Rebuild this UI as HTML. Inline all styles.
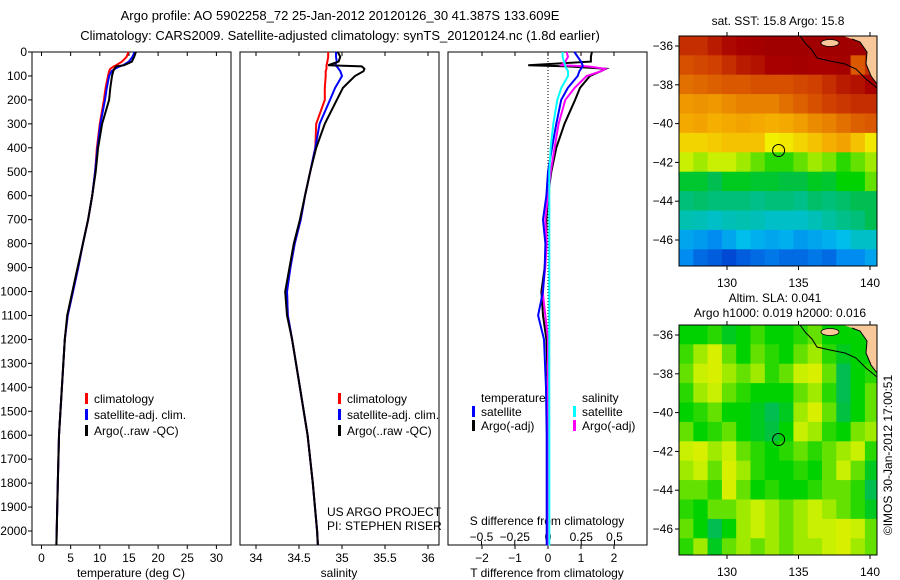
<!DOCTYPE html>
<html><head><meta charset="utf-8"><style>
body{margin:0;background:#fff;}
svg{display:block;font-family:"Liberation Sans",sans-serif;font-size:12px;}
</style></head><body>
<svg id="c" width="900" height="580" xmlns="http://www.w3.org/2000/svg">
<rect width="900" height="580" fill="#fff"/>
<text x="340" y="20" text-anchor="middle" font-size="13">Argo profile: AO 5902258_72 25-Jan-2012 20120126_30 41.387S 133.609E</text>
<text x="340" y="40" text-anchor="middle" font-size="13">Climatology: CARS2009. Satellite-adjusted climatology: synTS_20120124.nc (1.8d earlier)</text>
<g id="g"></g>
</svg>
<script>
// ---- data ----
const depths=[0,20,40,55,60,70,80,100,150,200,300,400,500,600,700,800,900,1000,1100,1200,1400,1600,1800,2000,2060];
const tempClim=[14.9,14.6,13.8,12.8,12.4,11.8,11.6,11.4,11.0,10.7,10.0,9.5,9.2,8.7,8.0,7.1,6.3,5.4,4.5,4.0,3.5,3.0,2.8,2.6,2.55];
const tempSat=[16.0,15.6,15.0,14.0,13.4,12.6,12.0,11.6,11.2,10.9,10.1,9.6,9.2,8.7,8.0,7.1,6.3,5.4,4.5,4.0,3.5,3.0,2.8,2.6,2.55];
const tempArgo=[16.2,15.9,15.5,14.2,12.8,12.5,12.3,12.1,11.8,11.6,10.4,9.7,9.3,8.7,8.0,7.1,6.2,5.3,4.4,4.0,3.5,3.0,2.8,2.6,2.55];
const salClim=[34.84,34.84,34.83,34.82,34.82,34.82,34.81,34.81,34.8,34.8,34.7,34.69,34.63,34.57,34.52,34.45,34.4,34.36,34.37,34.42,34.51,34.6,34.66,34.71,34.72];
const salSat=[34.93,34.93,34.94,34.92,34.94,34.96,34.98,35.0,34.92,34.86,34.74,34.69,34.63,34.57,34.52,34.45,34.4,34.36,34.37,34.42,34.51,34.6,34.66,34.71,34.72];
const salArgo=[34.95,34.98,34.96,34.84,35.23,35.26,35.25,35.15,35.01,34.94,34.8,34.7,34.63,34.57,34.51,34.44,34.39,34.34,34.36,34.42,34.51,34.6,34.66,34.71,34.72];
const tDiffSat=[0.8,0.9,1.0,1.05,1.05,1.0,0.95,0.9,0.6,0.4,0.25,0.12,0.0,-0.05,-0.15,-0.08,-0.1,-0.15,-0.3,-0.12,-0.06,-0.04,-0.04,-0.04,-0.04];
const tDiffArgo=[1.33,1.3,1.3,-0.6,0.6,1.75,1.6,1.27,0.97,0.82,0.5,0.25,0.1,0.0,-0.05,-0.05,-0.1,-0.2,-0.15,-0.05,0,0,0,0,0];
const sDiffSat=[0.11,0.11,0.12,0.13,0.13,0.14,0.15,0.15,0.1,0.07,0.04,0.02,0.01,0.01,0.01,0.01,0.01,0.01,0.01,0.01,0.01,0.01,0.01,0.01,0.01];
const sDiffArgo=[0.14,0.15,0.13,0.1,0.3,0.43,0.4,0.29,0.2,0.13,0.08,0.05,0.02,0.0,-0.02,-0.01,-0.02,-0.04,-0.02,0,0,0,0,0,0];
const depthTicks=[0,100,200,300,400,500,600,700,800,900,1000,1100,1200,1300,1400,1500,1600,1700,1800,1900,2000];
const tempTicks=[0,5,10,15,20,25,30];
const salTicks=[34,34.5,35,35.5,36];
const tdTicks=[-2,-1,0,1,2];
const sdTicks=[-0.5,-0.25,0,0.25,0.5];
const sdLabels=["\u22120.5","\u22120.25","0","0.25","0.5"];
const lonTicks=[130,135,140];
const latTicks=[-36,-38,-40,-42,-44,-46];
const sstGrid=[
[.9,.9,.92,.94,.95,.96,.97,.97,.97,.97,.97,.97,.97,.97],
[.86,.87,.88,.9,.92,.93,.95,.95,.96,.95,.95,.96,.85,.9],
[.82,.83,.84,.85,.85,.86,.86,.86,.87,.88,.9,.92,.93,.95],
[.76,.77,.76,.78,.8,.8,.8,.82,.84,.86,.88,.89,.9,.9],
[.73,.74,.72,.73,.74,.73,.72,.73,.75,.78,.8,.82,.84,.85],
[.68,.68,.69,.7,.7,.7,.65,.66,.68,.7,.72,.74,.7,.66],
[.6,.58,.6,.6,.58,.55,.52,.52,.55,.58,.56,.52,.55,.58],
[.47,.47,.45,.48,.48,.47,.47,.46,.46,.48,.47,.5,.5,.55],
[.4,.42,.4,.4,.4,.38,.4,.4,.38,.42,.4,.42,.45,.45],
[.33,.32,.3,.32,.33,.32,.3,.3,.3,.32,.35,.38,.4,.45],
[.2,.18,.15,.2,.25,.22,.2,.22,.18,.2,.22,.25,.3,.3],
[.15,.1,.08,.05,.08,.1,.12,.1,.1,.12,.1,.15,.15,.2]];
const slaGrid=[
[.5,.5,.52,.48,.5,.53,.5,.5,.52,.55,.5,.5,.5,.5],
[.53,.58,.62,.55,.5,.55,.52,.5,.55,.58,.52,.48,.5,.5],
[.55,.6,.62,.58,.55,.58,.52,.55,.6,.62,.55,.45,.5,.52],
[.52,.58,.6,.55,.52,.5,.5,.5,.55,.58,.52,.45,.5,.55],
[.5,.52,.55,.5,.5,.48,.45,.48,.58,.62,.55,.46,.5,.55],
[.55,.5,.52,.55,.5,.48,.46,.5,.6,.58,.52,.5,.56,.58],
[.6,.62,.58,.6,.55,.52,.5,.52,.55,.52,.55,.58,.6,.52],
[.58,.6,.55,.62,.58,.52,.5,.5,.52,.5,.55,.6,.55,.48],
[.55,.55,.52,.62,.55,.5,.52,.5,.5,.52,.55,.55,.52,.45],
[.52,.5,.55,.55,.58,.6,.58,.55,.58,.6,.58,.55,.52,.48],
[.55,.5,.45,.5,.58,.6,.58,.55,.58,.6,.6,.62,.6,.55],
[.52,.58,.48,.55,.58,.55,.58,.55,.58,.58,.6,.62,.58,.55]];
// ---- helpers ----
const NS="http://www.w3.org/2000/svg";
const G=document.getElementById('g');
function el(tag,attrs,parent){const e=document.createElementNS(NS,tag);for(const k in attrs)e.setAttribute(k,attrs[k]);(parent||G).appendChild(e);return e;}
const yD=d=>52+d*0.2395;
const xT=t=>41.5+t*5.83;
const xS=s=>256+(s-34)*86;
const xTD=t=>548+t*33;
const xSD=s=>548+s*133;
function line(xs,fn,color,name){
  const pts=depths.map((d,i)=>fn(xs[i]).toFixed(1)+","+yD(d).toFixed(1)).join(" ");
  const p=el('polyline',{points:pts,fill:'none',stroke:color,'stroke-width':2});
  
  
}
function panel(x0,name){
  const r=el('rect',{x:x0,y:52,width:199,height:493,fill:'none',stroke:'#000'});
  
  
}
function txt(x,y,s,anchor,size,name){
  const t=el('text',{x:x,y:y,'text-anchor':anchor||'start','font-size':size||12});
  t.textContent=s;
  
  
  return t;
}
panel(32,'temperature-panel');panel(240,'salinity-panel');panel(448,'difference-panel');
depthTicks.forEach(d=>{
  el('line',{x1:28,x2:32,y1:yD(d),y2:yD(d),stroke:'#000'});
  txt(27,yD(d)+4,String(d),'end',12,'depth-tick-label');
});
tempTicks.forEach(t=>{
  el('line',{x1:xT(t),x2:xT(t),y1:52,y2:56,stroke:'#000'});
  el('line',{x1:xT(t),x2:xT(t),y1:545,y2:549,stroke:'#000'});
  txt(xT(t),562,String(t),'middle',12,'temperature-tick-label');
});
salTicks.forEach(s=>{
  el('line',{x1:xS(s),x2:xS(s),y1:52,y2:56,stroke:'#000'});
  el('line',{x1:xS(s),x2:xS(s),y1:545,y2:549,stroke:'#000'});
  txt(xS(s),562,String(s),'middle',12,'salinity-tick-label');
});
tdTicks.forEach(t=>{
  el('line',{x1:xTD(t),x2:xTD(t),y1:52,y2:56,stroke:'#000'});
  el('line',{x1:xTD(t),x2:xTD(t),y1:545,y2:549,stroke:'#000'});
  txt(xTD(t),562,t<0?"\u2212"+(-t):String(t),'middle',12,'t-diff-tick-label');
});
sdTicks.forEach((s,i)=>{
  el('line',{x1:xSD(s),x2:xSD(s),y1:541,y2:545,stroke:'#000'});
  txt(xSD(s),541,sdLabels[i],'middle',12,'s-diff-tick-label');
});
txt(131,577,'temperature (deg C)','middle',12,'temperature-axis-title');
txt(339,577,'salinity','middle',12,'salinity-axis-title');
txt(547,577,'T difference from climatology','middle',12,'t-diff-axis-title');
txt(547,525,'S difference from climatology','middle',12,'s-diff-axis-title');
el('line',{x1:548,x2:548,y1:52,y2:545,stroke:'#000','stroke-dasharray':'1,2'});
line(tempClim,xT,'#f00','temp-climatology-line');
line(tempSat,xT,'#00f','temp-satellite-line');
line(tempArgo,xT,'#000','temp-argo-line');
line(salClim,xS,'#f00','sal-climatology-line');
line(salSat,xS,'#00f','sal-satellite-line');
line(salArgo,xS,'#000','sal-argo-line');
line(tDiffArgo,xTD,'#000','t-diff-argo-line');
line(sDiffArgo,xSD,'#f0f','s-diff-argo-line');
line(tDiffSat,xTD,'#00f','t-diff-satellite-line');
line(sDiffSat,xSD,'#0ff','s-diff-satellite-line');
function leg(x,y,color,label,name){
  el('rect',{x:x,y:y-10,width:3,height:11,fill:color});
  txt(x+9,y,label,'start',12,name);
}
[[85,'temp'],[338,'sal']].forEach(([x0,n])=>{
  leg(x0,403,'#f00','climatology',n+'-legend-climatology');
  leg(x0,419,'#00f','satellite-adj. clim.',n+'-legend-satellite');
  leg(x0,435,'#000','Argo(..raw -QC)',n+'-legend-argo');
});
txt(481,402,'temperature','start',12,'legend-temperature-header');
txt(582,402,'salinity','start',12,'legend-salinity-header');
leg(472,416,'#00f','satellite','legend-t-satellite');
leg(472,430,'#000','Argo(-adj)','legend-t-argo');
leg(573,416,'#0ff','satellite','legend-s-satellite');
leg(573,430,'#f0f','Argo(-adj)','legend-s-argo');
txt(327,516,'US ARGO PROJECT','start',12,'project-label');
txt(327,530,'PI: STEPHEN RISER','start',12,'pi-label');
const stops=[[0,[0,40,200]],[0.15,[0,140,240]],[0.25,[0,190,235]],[0.35,[0,192,160]],[0.45,[0,190,80]],[0.5,[0,210,0]],[0.6,[200,240,0]],[0.65,[240,240,0]],[0.72,[245,175,0]],[0.8,[232,128,0]],[0.88,[208,64,0]],[0.95,[168,0,0]],[1,[150,0,0]]];
function cmap(v){for(let i=1;i<stops.length;i++){if(v<=stops[i][0]){const a=stops[i-1],b=stops[i],f=(v-a[0])/(b[0]-a[0]);return 'rgb('+a[1].map((c,k)=>Math.round(c+(b[1][k]-c)*f)).join(',')+')';}}return 'rgb(150,0,0)';}
const mx=lon=>727+(lon-130)*14.3;
const my=(lat,y0)=>y0+10+(-36-lat)*19.4;
function map(grid,y0,name){
  const g=el('g',{});
  
  
  const lon0=126.64,lat0=-35.48;
  grid.forEach((row,r)=>row.forEach((v,c)=>{
    const x1=mx(lon0+c),x2=mx(lon0+c+1),y1=my(lat0-r,y0),y2=my(lat0-r-1,y0);
    const cell=el('rect',{x:x1.toFixed(1),y:y1.toFixed(1),width:(Math.min(x2,877)-x1+0.5).toFixed(1),height:(Math.min(y2,y0+230)-y1+0.5).toFixed(1),fill:cmap(v)},g);
    
    
  }));
  el('polygon',{points:`843,${y0} 877,${y0} 877,${y0+48} 871,${y0+40} 866,${y0+28} 867,${y0+16} 860,${y0+6} 852,${y0+3}`,fill:'#f8c898'},g);
  el('ellipse',{cx:830,cy:y0+7,rx:9,ry:3.5,fill:'#f8c898',stroke:'#000','stroke-width':0.8},g);
  el('polyline',{points:`800,${y0} 806,${y0+8} 812,${y0+14} 817,${y0+22} 830,${y0+25} 845,${y0+28} 856,${y0+33} 866,${y0+43} 877,${y0+52}`,fill:'none',stroke:'#000','stroke-width':1},g);
  el('polyline',{points:`852,${y0+3} 860,${y0+6} 867,${y0+16} 866,${y0+28} 871,${y0+40} 877,${y0+48}`,fill:'none',stroke:'#000','stroke-width':1},g);
  el('rect',{x:679,y:y0,width:198,height:230,fill:'none',stroke:'#000'},g);
  el('circle',{cx:mx(133.609),cy:my(-41.387,y0),r:6,fill:'none',stroke:'#000'},g);
  lonTicks.forEach(l=>{el('line',{x1:mx(l),x2:mx(l),y1:y0-4,y2:y0,stroke:'#000'},g);el('line',{x1:mx(l),x2:mx(l),y1:y0+230,y2:y0+234,stroke:'#000'},g);txt(mx(l),y0+251,String(l),'middle',12,'lon-tick-label');});
  latTicks.forEach(l=>{el('line',{x1:675,x2:679,y1:my(l,y0),y2:my(l,y0),stroke:'#000'},g);txt(673,my(l,y0)+4,"\u2212"+(-l),'end',12,'lat-tick-label');});
}
map(sstGrid,36,'sst-map');
map(slaGrid,325,'sla-map');
txt(778,25,'sat. SST: 15.8 Argo: 15.8','middle',12,'sst-map-title');
txt(775,302,'Altim. SLA: 0.041','middle',12,'sla-map-title');
txt(780,317,'Argo h1000: 0.019 h2000: 0.016','middle',12,'sla-map-subtitle');
const cr=txt(0,0,'\u00a9IMOS 30-Jan-2012 17:00:51','middle',12,'credit-label');
cr.setAttribute('transform','translate(892,455) rotate(-90)');
</script>
</body></html>
